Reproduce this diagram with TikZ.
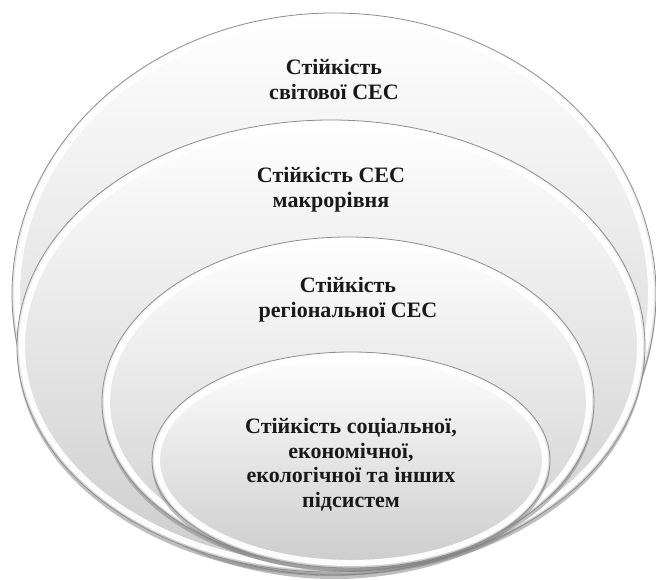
\documentclass[tikz,border=0pt]{standalone}
\usepackage{fontspec}
\setmainfont{Liberation Serif}
\usetikzlibrary{shapes,shadows,positioning}

\begin{document}
\begin{tikzpicture}[
        x=1pt, y=-1pt,
        ring/.style={ellipse, draw=black!45, line width=0.8pt, inner sep=0pt,
                     top color=white, bottom color=black!20,
                     drop shadow={shadow xshift=0pt, shadow yshift=-4pt, opacity=0.5}},
        rim/.style={draw=white, line width=6pt, opacity=0.95},
        caption/.style={align=center, inner sep=0pt, text=black!90,
                        font=\bfseries\fontsize{22}{24.5}\selectfont}
    ]
  \useasboundingbox[fill=white] (0,0) rectangle (656,579);

  % Rings
  \node[ring, minimum width=644pt, minimum height=562pt] (world) at (334,294) {};
  \draw[rim] (world.center) ellipse [x radius=317, y radius=276];
  \node[ring, minimum width=628pt, minimum height=452pt] (macro) at (331,346) {};
  \draw[rim] (macro.center) ellipse [x radius=309, y radius=221];
  \node[ring, minimum width=492pt, minimum height=330pt] (region) at (348,402) {};
  \draw[rim] (region.center) ellipse [x radius=241, y radius=160];
  \node[ring, minimum width=398pt, minimum height=216pt] (sub) at (351,460) {};
  \draw[rim] (sub.center) ellipse [x radius=194, y radius=103];

  % Labels
  \node[caption, below=67pt of world.north, anchor=center] (worldtext) {Стійкість\\світової СЕС};
  \node[caption, below=70pt of macro.north, anchor=center] (macrotext) {Стійкість СЕС\\макрорівня};
  \node[caption, below=63pt of region.north, anchor=center] (regiontext) {Стійкість\\регіональної СЕС};
  \node[caption, below=113pt of sub.north, anchor=center] (subtext) {Стійкість соціальної,\\економічної,\\екологічної та інших\\підсистем};
\end{tikzpicture}
\end{document}
